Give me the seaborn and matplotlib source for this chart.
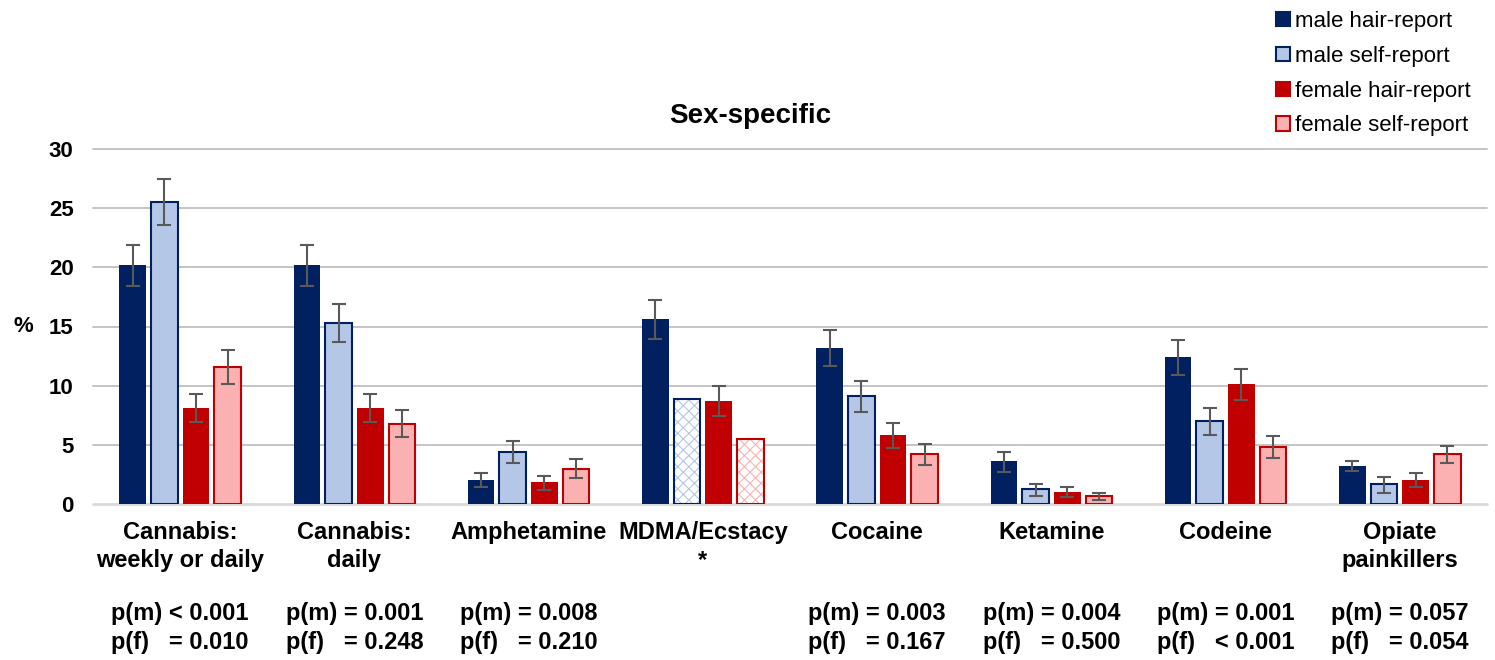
import numpy as np
import pandas as pd
import matplotlib
matplotlib.use("Agg")
import matplotlib.pyplot as plt
import matplotlib.transforms as mtransforms
from matplotlib.patches import Patch
from matplotlib.container import BarContainer
import seaborn as sns

# ---- data -----------------------------------------------------------------
drugs = ["Cannabis:\nweekly or daily", "Cannabis:\ndaily", "Amphetamine",
         "MDMA/Ecstacy\n*", "Cocaine", "Ketamine", "Codeine",
         "Opiate\npainkillers"]
series = ["male hair-report", "male self-report",
          "female hair-report", "female self-report"]

male_hair = [20.2, 20.2, 2.0, 15.6, 13.2, 3.6, 12.45, 3.25]
male_hair_lo = [18.4, 18.4, 1.4, 13.95, 11.65, 2.7, 10.9, 2.75]
male_hair_hi = [21.9, 21.9, 2.6, 17.2, 14.7, 4.4, 13.85, 3.65]

male_self = [25.55, 15.3, 4.4, 8.9, 9.1, 1.25, 7.05, 1.65]
male_self_lo = [23.6, 13.7, 3.5, np.nan, 7.8, 0.7, 5.85, 0.95]
male_self_hi = [27.5, 16.9, 5.3, np.nan, 10.4, 1.7, 8.15, 2.25]

female_hair = [8.15, 8.15, 1.85, 8.7, 5.85, 1.05, 10.15, 2.0]
female_hair_lo = [6.9, 6.9, 1.2, 7.45, 4.7, 0.55, 8.75, 1.4]
female_hair_hi = [9.3, 9.3, 2.4, 9.95, 6.85, 1.45, 11.45, 2.6]

female_self = [11.6, 6.8, 3.0, 5.5, 4.2, 0.65, 4.8, 4.2]
female_self_lo = [10.1, 5.7, 2.2, np.nan, 3.3, 0.3, 3.85, 3.45]
female_self_hi = [13.0, 7.95, 3.8, np.nan, 5.05, 0.95, 5.75, 4.9]

# self-report bars without a confidence interval are drawn hatched
hatched_self = [False, False, False, True, False, False, False, False]

p_male = ["p(m) < 0.001", "p(m) = 0.001", "p(m) = 0.008", "",
          "p(m) = 0.003", "p(m) = 0.004", "p(m) = 0.001", "p(m) = 0.057"]
p_female = ["p(f)   = 0.010", "p(f)   = 0.248", "p(f)   = 0.210", "",
            "p(f)   = 0.167", "p(f)   = 0.500", "p(f)   < 0.001", "p(f)   = 0.054"]

values = [male_hair, male_self, female_hair, female_self]
lows = [male_hair_lo, male_self_lo, female_hair_lo, female_self_lo]
highs = [male_hair_hi, male_self_hi, female_hair_hi, female_self_hi]

fills = ["#002060", "#B4C7E7", "#C00000", "#FBB1B1"]
edges = ["#002060", "#002060", "#C00000", "#C00000"]
edge_w = [0.0, 1.5, 0.0, 1.5]

df = pd.DataFrame(
    [(d, s, v) for s, vals in zip(series, values) for d, v in zip(drugs, vals)],
    columns=["drug", "series", "value"],
)

# ---- style ----------------------------------------------------------------
sns.set_style("white")
plt.rcParams["font.family"] = ["Liberation Sans", "DejaVu Sans"]
plt.rcParams["hatch.linewidth"] = 0.8
plt.rcParams["text.color"] = "black"
plt.rcParams["axes.labelcolor"] = "black"
plt.rcParams["xtick.labelcolor"] = "black"
plt.rcParams["ytick.labelcolor"] = "black"

fig = plt.figure(figsize=(14.95, 6.6), dpi=100)
ax = fig.add_axes([93 / 1495, 1 - 504 / 660, 1394 / 1495, 355 / 660])

sns.barplot(data=df, x="drug", y="value", hue="series", order=drugs,
            hue_order=series, palette=dict(zip(series, fills)), saturation=1,
            width=0.727, gap=0.16, errorbar=None, legend=False, ax=ax)

bar_containers = [c for c in ax.containers if isinstance(c, BarContainer)]

for si, cont in enumerate(bar_containers):
    xs, ys, lo_err, hi_err = [], [], [], []
    for bar in list(cont):
        cx = bar.get_x() + bar.get_width() / 2
        ci = int(round(cx))
        if si in (1, 3) and hatched_self[ci]:
            bar.set_facecolor("white")
            bar.set_edgecolor(fills[si])
            bar.set_hatch("xxx")
            bar.set_linewidth(0)
            ax.bar(bar.get_x(), bar.get_height(), width=bar.get_width(),
                   align="edge", fill=False, edgecolor=edges[si],
                   linewidth=1.5, zorder=bar.get_zorder() + 0.1)
        else:
            bar.set_edgecolor(edges[si])
            bar.set_linewidth(edge_w[si])
        lo, hi = lows[si][ci], highs[si][ci]
        if not (np.isnan(lo) or np.isnan(hi)):
            v = values[si][ci]
            xs.append(cx)
            ys.append(v)
            lo_err.append(v - lo)
            hi_err.append(hi - v)
    ax.errorbar(xs, ys, yerr=[lo_err, hi_err], fmt="none", ecolor="#595959",
                elinewidth=1.5, capsize=4.7, capthick=1.5, zorder=5)

# ---- axes -----------------------------------------------------------------
ax.set_xlim(-0.5, 7.5)
ax.set_ylim(0, 30)
ax.set_yticks(range(0, 31, 5))
ax.yaxis.grid(True, color="#BFBFBF", linewidth=1.3)
ax.set_axisbelow(True)
grid = ax.get_ygridlines()
grid[0].set_color("#D9D9D9")
grid[0].set_linewidth(2)
for gl in grid:
    gl.set_clip_on(False)
for sp in ax.spines.values():
    sp.set_visible(False)

ax.tick_params(axis="x", length=0, pad=12, labelsize=17, labelcolor="black")
ax.tick_params(axis="y", length=0, pad=14, labelsize=16, labelcolor="black")
for t in ax.get_xticklabels() + ax.get_yticklabels():
    t.set_fontweight("bold")
for t in ax.get_xticklabels():
    t.set_linespacing(1.3)

ax.set_xlabel("")
ax.set_ylabel("%", rotation=0, fontsize=16, fontweight="bold",
              ha="center", va="center", color="black")
ax.yaxis.set_label_coords(-0.0502, 0.5)

fig.text(0.502, 1 - 116 / 660, "Sex-specific", ha="center", va="center",
         fontsize=20, fontweight="bold", color="black")

trans = mtransforms.blended_transform_factory(ax.transData, fig.transFigure)
for i, (pm, pf) in enumerate(zip(p_male, p_female)):
    if pm:
        ax.text(i, 1 - 628 / 660, pm + "\n" + pf, transform=trans,
                ha="center", va="center", multialignment="left",
                fontsize=17, fontweight="bold", linespacing=1.3,
                color="black")

handles = [Patch(facecolor=f, edgecolor=e, linewidth=1.5)
           for f, e in zip(fills, edges)]
fig.legend(handles, series, loc="upper left",
           bbox_to_anchor=(1276 / 1495, 1 - 11 / 660), frameon=False,
           fontsize=16, handlelength=0.62, handleheight=0.62,
           handletextpad=0.25, labelspacing=0.62, borderpad=0,
           borderaxespad=0, labelcolor="black")

fig.savefig("out.png", dpi=100)
